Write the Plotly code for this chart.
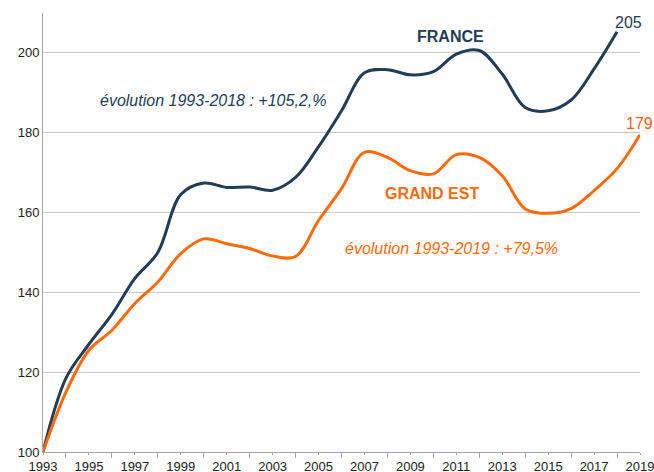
import plotly.graph_objects as go

years_fr = list(range(1993, 2019))
france = [100, 118.5, 127, 134.5, 143.5, 150, 164.5, 167.4, 166.3, 166.4, 165.6, 168.8,
          176.5, 185.5, 195, 195.8, 194.5, 195.3, 199.7, 200.6, 194.7, 186.3, 185.5,
          188.2, 196, 205.3]
years_ge = list(range(1993, 2020))
grand_est = [100, 115, 125.5, 130.5, 137.2, 142.6, 149.7, 153.4, 152.2, 151, 149.1, 149,
             158, 166, 175.1, 173.8, 170.5, 169.7, 174.5, 173.8, 169.2, 160.9, 159.8,
             161, 165.5, 171, 179.5]

NAVY = "#223D58"
ORANGE = "#FF6A0A"
FONT = "Liberation Sans, Arial, sans-serif"

fig = go.Figure()
fig.add_trace(go.Scatter(x=years_fr, y=france, mode="lines",
                         line=dict(color=NAVY, width=3, shape="spline", smoothing=1.0),
                         name="FRANCE", showlegend=False))
fig.add_trace(go.Scatter(x=years_ge, y=grand_est, mode="lines",
                         line=dict(color=ORANGE, width=3, shape="spline", smoothing=1.0),
                         name="GRAND EST", showlegend=False))

ann = [
    dict(x=2010.73, y=204.1, text="<b>FRANCE</b>", font=dict(color=NAVY, size=16, family=FONT)),
    dict(x=2000.4, y=188, text="<i>évolution 1993-2018 : +105,2,%</i>", font=dict(color=NAVY, size=16, family=FONT)),
    dict(x=2009.96, y=164.7, text="<b>GRAND EST</b>", font=dict(color=ORANGE, size=16, family=FONT)),
    dict(x=2010.79, y=151, text="<i>évolution 1993-2019 : +79,5%</i>", font=dict(color=ORANGE, size=16, family=FONT)),
    dict(x=2018.5, y=207.5, text="205", font=dict(color=NAVY, size=16, family=FONT)),
    dict(x=2018.98, y=182.3, text="179", font=dict(color="#FF5F14", size=16, family=FONT)),
]
for a in ann:
    a["showarrow"] = False
    a["xref"] = "x"
    a["yref"] = "y"

fig.update_layout(
    width=654, height=472,
    margin=dict(l=43, r=14, t=13, b=20),
    paper_bgcolor="white", plot_bgcolor="white",
    font=dict(family=FONT, size=13, color="#222222"),
    annotations=ann,
    xaxis=dict(range=[1993, 2019], tick0=1993, dtick=2, showgrid=False, showline=True,
               linecolor="#A6A6A6", linewidth=1, ticks="outside", ticklen=2, tickcolor="#A6A6A6",
               minor=dict(ticks="outside", tick0=1993, dtick=1, ticklen=5, tickcolor="#A6A6A6"),
               tickfont=dict(size=13, color="#222222"), zeroline=False, automargin=False,
               ticklabeloverflow="allow"),
    yaxis=dict(range=[100, 210], tick0=100, dtick=20, showgrid=True, gridcolor="#C8C8C8", gridwidth=1,
               showline=True, linecolor="#A6A6A6", linewidth=1, ticks="", zeroline=False,
               tickfont=dict(size=13, color="#222222"), automargin=False,
               ticklabeloverflow="allow"),
)

fig.write_html("out.html", config={"displayModeBar": False},
               post_script="document.body.style.margin='0px';document.body.style.overflow='hidden';")
